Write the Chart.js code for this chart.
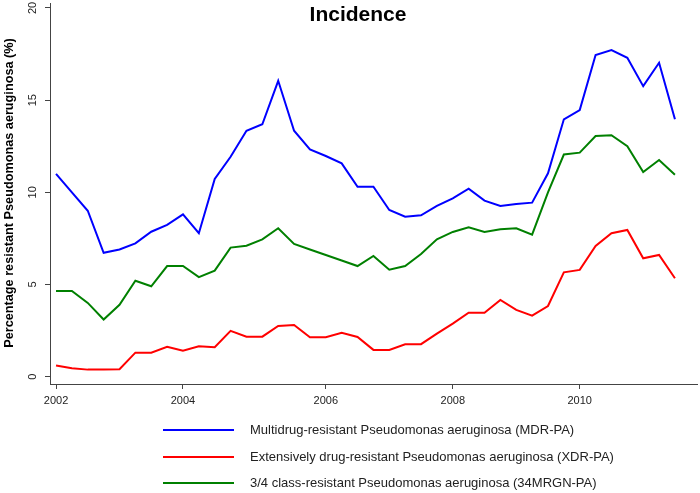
<!DOCTYPE html>
<html>
<head>
<meta charset="utf-8">
<script src="https://cdn.jsdelivr.net/npm/chart.js@4"></script>
<style>
  html, body { margin: 0; padding: 0; background: #fff; }
  #wrap { width: 700px; height: 493px; }
</style>
</head>
<body>
<div id="wrap"><canvas id="myChart" width="700" height="493"></canvas></div>
<script>
// quarterly values, 2002 Q1 .. 2011 Q4 (index 0..39)
var mdr = [11.0, 10.0, 9.0, 6.72, 6.9, 7.23, 7.86, 8.23, 8.8, 7.78,
  10.72, 11.93, 13.34, 13.69, 16.05, 13.34, 12.33, 11.97, 11.57, 10.3,
  10.3, 9.04, 8.68, 8.75, 9.26, 9.67, 10.2, 9.55, 9.26, 9.37,
  9.44, 11.03, 13.96, 14.46, 17.45, 17.72, 17.3, 15.76, 17.03, 13.96];
var xdr = [0.6, 0.45, 0.38, 0.38, 0.4, 1.3, 1.3, 1.62, 1.4, 1.65,
  1.6, 2.48, 2.17, 2.17, 2.75, 2.8, 2.14, 2.14, 2.38, 2.15,
  1.45, 1.45, 1.76, 1.76, 2.33, 2.88, 3.47, 3.47, 4.16, 3.62,
  3.31, 3.83, 5.66, 5.79, 7.09, 7.78, 7.96, 6.42, 6.6, 5.34];
var mrgn = [4.65, 4.65, 4.0, 3.1, 3.9, 5.2, 4.9, 6.0, 6.0, 5.4,
  5.75, 7.0, 7.1, 7.45, 8.05, 7.2, 6.9, 6.6, 6.3, 6.0,
  6.55, 5.8, 6.0, 6.65, 7.45, 7.85, 8.1, 7.85, 8.0, 8.05,
  7.7, 10.0, 12.05, 12.15, 13.05, 13.1, 12.5, 11.1, 11.75, 10.95];

var tickYears = ['2002', '2004', '2006', '2008', '2010'];
var tickIndex = [0, 8, 17, 25, 33];
var yTicks = [0, 5, 10, 15, 20];

var seriesNames = [
  'Multidrug-resistant Pseudomonas aeruginosa (MDR-PA)',
  'Extensively drug-resistant Pseudomonas aeruginosa (XDR-PA)',
  '3/4 class-resistant Pseudomonas aeruginosa (34MRGN-PA)'
];
var colors = ['#0000ff', '#ff0000', '#008000'];

var FONT = '"Liberation Sans", Arial, sans-serif';

function pts(arr) {
  return arr.map(function (v, i) { return { x: i, y: v }; });
}

// draws title, axis labels and the legend the R way
var decor = {
  id: 'decor',
  afterDraw: function (chart) {
    var c = chart.ctx;
    var xs = chart.scales.x, ys = chart.scales.y;
    c.save();
    c.fillStyle = '#000';
    c.font = 'bold 21px ' + FONT;
    c.textAlign = 'center';
    c.textBaseline = 'middle';
    c.fillText('Incidence', 358, 15);

    // x tick labels
    c.fillStyle = '#222';
    c.font = '11px ' + FONT;
    tickIndex.forEach(function (v, i) {
      c.fillText(tickYears[i], xs.getPixelForValue(v), 401);
    });

    // y tick labels, rotated
    yTicks.forEach(function (v) {
      c.save();
      c.translate(33, ys.getPixelForValue(v));
      c.rotate(-Math.PI / 2);
      c.fillText(String(v), 0, 0);
      c.restore();
    });

    // y title
    c.save();
    c.translate(9, 193);
    c.rotate(-Math.PI / 2);
    c.fillStyle = '#000';
    c.font = 'bold 12.7px ' + FONT;
    c.fillText('Percentage resistant Pseudomonas aeruginosa (%)', 0, 0);
    c.restore();

    // legend
    var ly = [430, 457, 483];
    c.textAlign = 'left';
    c.font = '13px ' + FONT;
    for (var k = 0; k < 3; k++) {
      c.strokeStyle = colors[k];
      c.lineWidth = 2;
      c.beginPath();
      c.moveTo(163, ly[k]);
      c.lineTo(234, ly[k]);
      c.stroke();
      c.fillStyle = '#222';
      c.fillText(seriesNames[k], 250, ly[k]);
    }
    c.restore();
  }
};

var ctx = document.getElementById('myChart').getContext('2d');

var myChart = new Chart(ctx, {
  type: 'line',
  data: {
    datasets: [0, 1, 2].map(function (k) {
      return {
        label: seriesNames[k],
        data: pts([mdr, xdr, mrgn][k]),
        borderColor: colors[k],
        backgroundColor: colors[k],
        borderWidth: 2,
        pointRadius: 0,
        tension: 0,
        fill: false
      };
    })
  },
  options: {
    responsive: false,
    animation: false,
    layout: { padding: { left: 0, right: 3, top: 3, bottom: 0 } },
    plugins: {
      legend: { display: false },
      title: { display: false },
      tooltip: { enabled: false }
    },
    scales: {
      x: {
        type: 'linear',
        min: -0.38,
        max: 40.39,
        afterBuildTicks: function (s) {
          s.ticks = tickIndex.map(function (v) { return { value: v }; });
        },
        afterFit: function (s) { s.height = 109; },
        ticks: { display: false },
        grid: { drawOnChartArea: false, drawTicks: true, tickLength: 5, color: '#444' },
        border: { color: '#444', width: 1 }
      },
      y: {
        min: -0.4,
        max: 20.27,
        afterBuildTicks: function (s) {
          s.ticks = yTicks.map(function (v) { return { value: v }; });
        },
        afterFit: function (s) { s.width = 50; },
        ticks: { display: false },
        grid: { drawOnChartArea: false, drawTicks: true, tickLength: 5, color: '#444' },
        border: { color: '#444', width: 1 }
      }
    }
  },
  plugins: [decor]
});
</script>
</body>
</html>
